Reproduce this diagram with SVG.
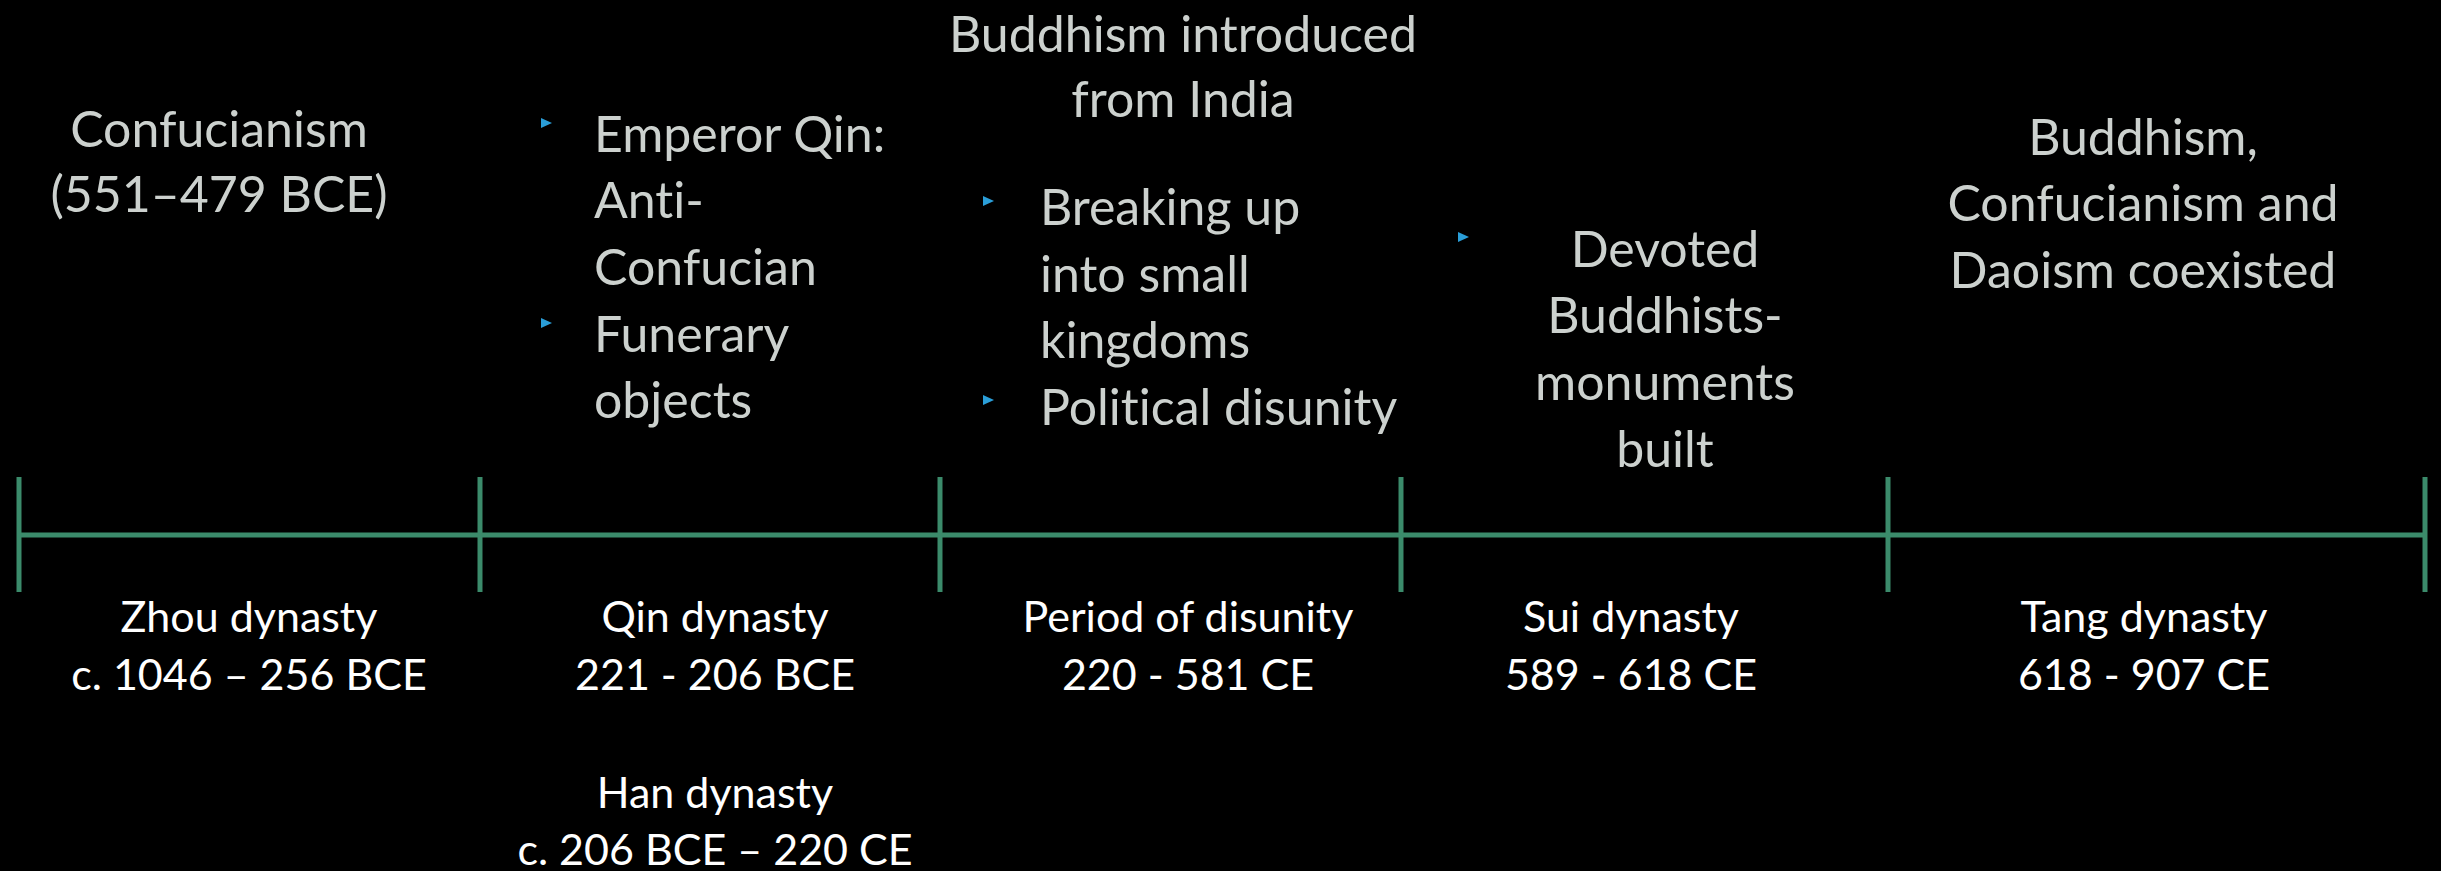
<svg xmlns="http://www.w3.org/2000/svg" width="2441" height="871" viewBox="0 0 2441 871">
<style>
  text { font-variant-ligatures: none; font-feature-settings: "liga" 0, "clig" 0; }
  .top { font-family: Lato, "Noto Sans", "Liberation Sans", sans-serif; font-size: 50px; fill: #ccd1ce; }
  .bot { font-family: Lato, "Noto Sans", "Liberation Sans", sans-serif; font-size: 43px; fill: #ffffff; }
  .mid { text-anchor: middle; }
  .axis { stroke: #3b8b6b; stroke-width: 5; fill: none; }
  .bullet { fill: #2a9ed8; }
</style>
<defs>
  <path id="tri" d="M0,0 L11,5 L0,10 Z"/>
</defs>
<rect x="0" y="0" width="2441" height="871" fill="#000000"/>

<g id="connectors">
  <line class="axis" x1="19" y1="535" x2="2425" y2="535"/>
  <line class="axis" x1="19" y1="477" x2="19" y2="592"/>
  <line class="axis" x1="480" y1="477" x2="480" y2="592"/>
  <line class="axis" x1="940" y1="477" x2="940" y2="592"/>
  <line class="axis" x1="1401" y1="477" x2="1401" y2="592"/>
  <line class="axis" x1="1888" y1="477" x2="1888" y2="592"/>
  <line class="axis" x1="2425" y1="477" x2="2425" y2="592"/>
</g>

<g id="zhou-note">
  <text class="top mid" x="219" y="147">Confucianism</text>
  <text class="top mid" x="219" y="212">(551–479 BCE)</text>
</g>

<g id="qin-note">
  <use href="#tri" class="bullet" x="541" y="118"/>
  <use href="#tri" class="bullet" x="541" y="318"/>
  <text class="top" x="594" y="152">Emperor Qin:</text>
  <text class="top" x="594" y="218">Anti-</text>
  <text class="top" x="594" y="285">Confucian</text>
  <text class="top" x="594" y="352">Funerary</text>
  <text class="top" x="594" y="418">objects</text>
</g>

<g id="disunity-note">
  <text class="top mid" x="1183" y="52">Buddhism introduced</text>
  <text class="top mid" x="1183" y="117">from India</text>
  <use href="#tri" class="bullet" x="983" y="196"/>
  <use href="#tri" class="bullet" x="983" y="395"/>
  <text class="top" x="1040" y="225">Breaking up</text>
  <text class="top" x="1040" y="292">into small</text>
  <text class="top" x="1040" y="358">kingdoms</text>
  <text class="top" x="1040" y="425">Political disunity</text>
</g>

<g id="sui-note">
  <use href="#tri" class="bullet" x="1458" y="232"/>
  <text class="top mid" x="1665" y="267">Devoted</text>
  <text class="top mid" x="1665" y="333">Buddhists-</text>
  <text class="top mid" x="1665" y="400">monuments</text>
  <text class="top mid" x="1665" y="467">built</text>
</g>

<g id="tang-note">
  <text class="top mid" x="2143" y="155">Buddhism,</text>
  <text class="top mid" x="2143" y="221">Confucianism and</text>
  <text class="top mid" x="2143" y="288">Daoism coexisted</text>
</g>

<g id="zhou">
  <text class="bot mid" x="249" y="632">Zhou dynasty</text>
  <text class="bot mid" x="249" y="690">c. 1046 – 256 BCE</text>
</g>

<g id="qin">
  <text class="bot mid" x="715" y="632">Qin dynasty</text>
  <text class="bot mid" x="715" y="690">221 - 206 BCE</text>
</g>

<g id="han">
  <text class="bot mid" x="715" y="808">Han dynasty</text>
  <text class="bot mid" x="715" y="865">c. 206 BCE – 220 CE</text>
</g>

<g id="disunity">
  <text class="bot mid" x="1188" y="632">Period of disunity</text>
  <text class="bot mid" x="1188" y="690">220 - 581 CE</text>
</g>

<g id="sui">
  <text class="bot mid" x="1631" y="632">Sui dynasty</text>
  <text class="bot mid" x="1631" y="690">589 - 618 CE</text>
</g>

<g id="tang">
  <text class="bot mid" x="2144" y="632">Tang dynasty</text>
  <text class="bot mid" x="2144" y="690">618 - 907 CE</text>
</g>
</svg>
